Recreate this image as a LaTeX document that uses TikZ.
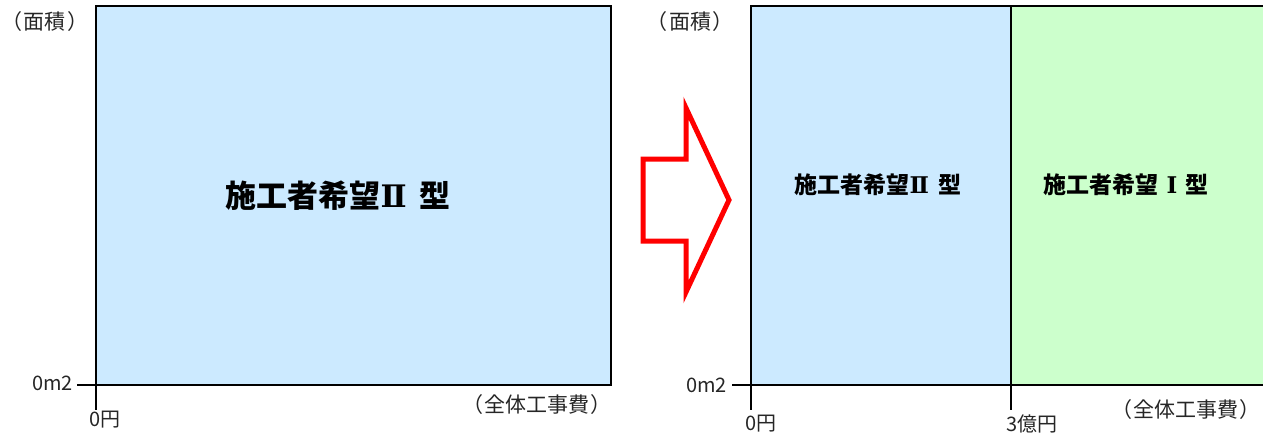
\documentclass[tikz,border=0pt]{standalone}
\usepackage{fontspec}
\setmainfont{Noto Sans CJK JP}
\newfontfamily\jp{Noto Sans CJK JP}
\newfontfamily\jpp[RawFeature=+palt]{Noto Sans CJK JP}
\newfontfamily\numserif{DejaVu Serif}
\definecolor{areablue}{HTML}{CCEAFF}
\definecolor{areagreen}{HTML}{CCFFCC}
\newcommand{\lpar}{{\jpp （}\hspace{0.1em}}
\newcommand{\rpar}{\hspace{0.1em}{\jpp ）}}
\tikzset{
  axisline/.style={line width=2.4pt, black},
  lbl/.style={inner sep=0pt, font=\jp\fontsize{20}{20}\selectfont, text=black!85},
  plbl/.style={inner sep=0pt, font=\jp\fontsize{21}{21}\selectfont, text=black!85},
  bigtitle/.style={inner sep=0pt, font=\jp\bfseries\fontsize{31}{31}\selectfont},
  smalltitle/.style={inner sep=0pt, font=\jp\bfseries\fontsize{23}{23}\selectfont},
}
\begin{document}
\begin{tikzpicture}[x=1pt,y=-1pt]
\useasboundingbox (0,0) rectangle (1263,436);
% left panel
\coordinate (LTL) at (96,6);
\coordinate (LBR) at (611,385);
\fill[areablue] (LTL) rectangle (LBR);
\draw[axisline] (LTL) rectangle (LBR);
\coordinate (LY0) at (77,385);
\coordinate (LX0) at (96,410);
\draw[axisline] (LY0) -- (LBR |- LY0);
\draw[axisline] (LTL) -- (LX0);
\node[bigtitle] (t1) at (338,196) {施工者希望{\numserif\bfseries Ⅱ}\hspace{0.4em}型};
\node[plbl] (la1) at (45,22) {\lpar 面積\rpar};
\node[lbl, anchor=east] (lm1) at (73,383) {0m2};
\node[lbl, anchor=west] (lx1) at (89,420) {0円};
\node[plbl] (lc1) at (537,405) {\lpar 全体工事費\rpar};
% arrow
\coordinate (a1) at (643,159);
\coordinate (a2) at (686,159);
\coordinate (a3) at (686,108);
\coordinate (a4) at (729,200);
\coordinate (a5) at (686,292);
\coordinate (a6) at (686,241);
\coordinate (a7) at (643,241);
\draw[red, line width=5pt, line join=miter] (a1) -- (a2) -- (a3) -- (a4) -- (a5) -- (a6) -- (a7) -- cycle;
% right panel
\coordinate (RTL) at (751,6);
\coordinate (RMID) at (1011,385);
\coordinate (RMT) at (1011,6);
\coordinate (RBR) at (1270,385);
\fill[areablue] (RTL) rectangle (RMID);
\fill[areagreen] (RMT) rectangle (RBR);
\draw[axisline] (RTL) rectangle (RBR);
\coordinate (RY0) at (732,385);
\coordinate (RX0) at (751,410);
\coordinate (RX3) at (1011,410);
\draw[axisline] (RY0) -- (RBR);
\draw[axisline] (RTL) -- (RX0);
\draw[axisline] (RMT) -- (RX3);
\node[smalltitle] (t2) at (878,185) {施工者希望{\numserif\bfseries Ⅱ}\hspace{0.4em}型};
\node[smalltitle] (t3) at (1126,185) {施工者希望\hspace{0.35em}{\numserif\bfseries Ⅰ}\hspace{0.35em}型};
\node[plbl] (la2) at (690,22) {\lpar 面積\rpar};
\node[lbl, anchor=east] (lm2) at (727,385) {0m2};
\node[lbl, anchor=west] (lx2) at (745,424) {0円};
\node[lbl, anchor=west] (lx3) at (1006,424) {3億円};
\node[plbl] (lc2) at (1186,410) {\lpar 全体工事費\rpar};
\end{tikzpicture}
\end{document}
